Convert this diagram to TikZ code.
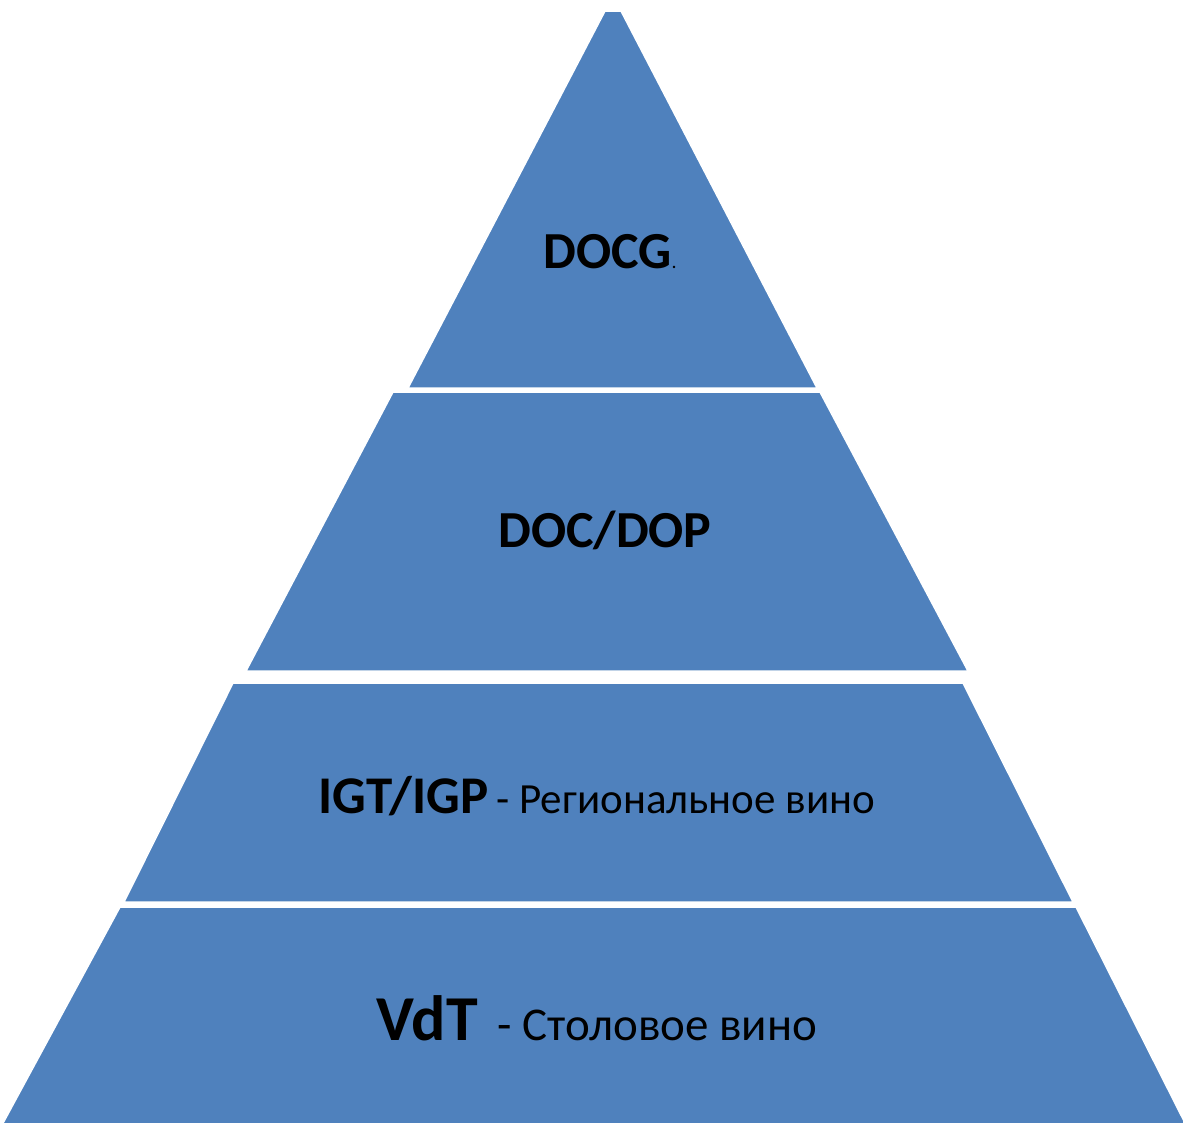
\documentclass[tikz,border=0pt]{standalone}
\usepackage{fontspec}
\setmainfont{Carlito}
\usepackage{tikz}
\definecolor{tierblue}{HTML}{4F81BD}
\tikzstyle{tier}=[fill=tierblue,draw=white,line width=1.5pt,line join=miter]
\tikzstyle{label}=[inner sep=0pt,text=black]
\begin{document}
\begin{tikzpicture}[x=1pt,y=-1pt]
\useasboundingbox (0,0) rectangle (1183,1122);
% tiers, top to bottom
\path[tier] (605,11) -- (621,11) -- (817,388) -- (408,388) -- cycle;
\path[tier] (393,392) -- (820,392) -- (968,671) -- (246,671) -- cycle;
\path[tier] (233,683) -- (963,683) -- (1073,902) -- (124,902) -- cycle;
\path[tier] (120,907) -- (1076,907) -- (1186,1125) -- (2,1125) -- cycle;
% labels
\node[label] (docg) at (610,252) {\fontsize{52}{60}\selectfont\bfseries DOCG{\fontsize{20}{24}\selectfont\mdseries.}};
\node[label] (doc) at (605,530) {\fontsize{52}{60}\selectfont\bfseries DOC/DOP};
\node[label] (igt) at (597,796) {{\fontsize{53}{60}\selectfont\bfseries IGT/IGP}\hspace{8pt}\fontsize{43}{48}\selectfont- Региональное вино};
\node[label] (vdt) at (597,1018) {{\fontsize{64}{76}\selectfont\bfseries VdT}\hspace{20pt}\fontsize{47}{56}\selectfont- Столовое вино};
\end{tikzpicture}
\end{document}
